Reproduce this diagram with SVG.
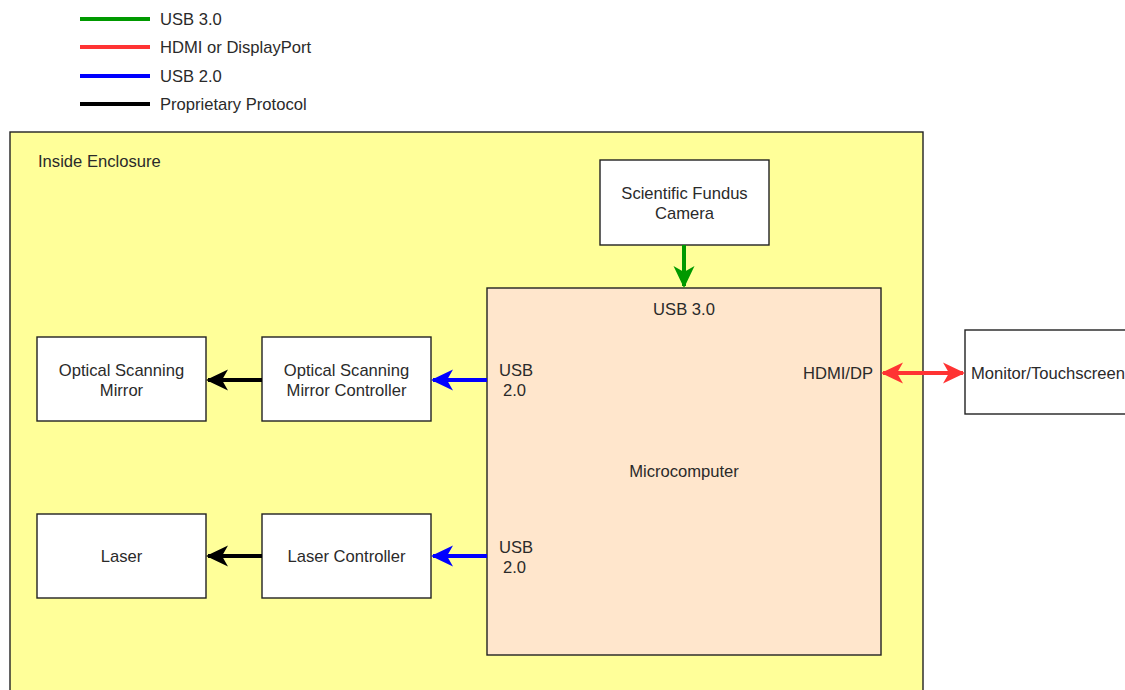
<svg xmlns="http://www.w3.org/2000/svg" width="1125" height="690" viewBox="0 0 1125 690">
<defs>
<style>
text{font-family:"Liberation Sans",Arial,sans-serif;font-size:16.6px;fill:#2a2a2a}
.c{text-anchor:middle}
.box{fill:#fff;stroke:#222;stroke-width:1.4}
.leg{stroke-width:4}
.con{fill:none;stroke-width:4}
</style>
<marker id="ak" markerWidth="22" markerHeight="22" refX="20" refY="11" orient="auto" markerUnits="userSpaceOnUse" viewBox="0 0 22 22"><path d="M0,0.5 L22,11 L0,21.5 L6,11 Z" fill="#000"/></marker>
<marker id="ab" markerWidth="22" markerHeight="22" refX="20" refY="11" orient="auto" markerUnits="userSpaceOnUse" viewBox="0 0 22 22"><path d="M0,0.5 L22,11 L0,21.5 L6,11 Z" fill="#0000ff"/></marker>
<marker id="ag" markerWidth="22" markerHeight="22" refX="20" refY="11" orient="auto" markerUnits="userSpaceOnUse" viewBox="0 0 22 22"><path d="M0,0.5 L22,11 L0,21.5 L6,11 Z" fill="#009900"/></marker>
<marker id="ar" markerWidth="22" markerHeight="22" refX="20" refY="11" orient="auto-start-reverse" markerUnits="userSpaceOnUse" viewBox="0 0 22 22"><path d="M0,0.5 L22,11 L0,21.5 L6,11 Z" fill="#ff3333"/></marker>
</defs>
<rect width="1125" height="690" fill="#fff"/>
<g id="legend">
<line class="leg" x1="80" y1="19" x2="150" y2="19" stroke="#009900"/>
<text x="160" y="25">USB 3.0</text>
<line class="leg" x1="80" y1="47" x2="150" y2="47" stroke="#ff3333"/>
<text x="160" y="53">HDMI or DisplayPort</text>
<line class="leg" x1="80" y1="76" x2="150" y2="76" stroke="#0000ff"/>
<text x="160" y="82">USB 2.0</text>
<line class="leg" x1="80" y1="104" x2="150" y2="104" stroke="#000"/>
<text x="160" y="110">Proprietary Protocol</text>
</g>
<g id="enclosure">
<rect x="10" y="132" width="913" height="570" fill="#ffff99" stroke="#222" stroke-width="1.4"/>
<text x="38" y="167">Inside Enclosure</text>
</g>
<g id="camera">
<rect class="box" x="600" y="160" width="169" height="85"/>
<text class="c" x="684.5" y="199">Scientific Fundus</text>
<text class="c" x="684.5" y="219">Camera</text>
</g>
<g id="microcomputer">
<rect x="487" y="288" width="394" height="367" fill="#ffe6cc" stroke="#222" stroke-width="1.4"/>
<text class="c" x="684" y="315">USB 3.0</text>
<text class="c" x="684" y="477">Microcomputer</text>
<text x="499" y="376">USB</text>
<text x="503" y="396">2.0</text>
<text x="499" y="553">USB</text>
<text x="503" y="573">2.0</text>
<text x="873" y="379" text-anchor="end">HDMI/DP</text>
</g>
<g id="monitor">
<rect class="box" x="965" y="330" width="170" height="84"/>
<text x="971" y="379">Monitor/Touchscreen</text>
</g>
<g id="mirror">
<rect class="box" x="37" y="337" width="169" height="84"/>
<text class="c" x="121.5" y="376">Optical Scanning</text>
<text class="c" x="121.5" y="396">Mirror</text>
</g>
<g id="mirror-controller">
<rect class="box" x="262" y="337" width="169" height="84"/>
<text class="c" x="346.5" y="376">Optical Scanning</text>
<text class="c" x="346.5" y="396">Mirror Controller</text>
</g>
<g id="laser">
<rect class="box" x="37" y="514" width="169" height="84"/>
<text class="c" x="121.5" y="562">Laser</text>
</g>
<g id="laser-controller">
<rect class="box" x="262" y="514" width="169" height="84"/>
<text class="c" x="346.5" y="562">Laser Controller</text>
</g>
<g id="connectors">
<line class="con" x1="684" y1="245" x2="684" y2="286" stroke="#009900" marker-end="url(#ag)"/>
<line class="con" x1="883" y1="373" x2="963" y2="373" stroke="#ff3333" marker-start="url(#ar)" marker-end="url(#ar)"/>
<line class="con" x1="487" y1="380" x2="433" y2="380" stroke="#0000ff" marker-end="url(#ab)"/>
<line class="con" x1="487" y1="556" x2="433" y2="556" stroke="#0000ff" marker-end="url(#ab)"/>
<line class="con" x1="262" y1="380" x2="208" y2="380" stroke="#000" marker-end="url(#ak)"/>
<line class="con" x1="262" y1="556" x2="208" y2="556" stroke="#000" marker-end="url(#ak)"/>
</g>
</svg>
